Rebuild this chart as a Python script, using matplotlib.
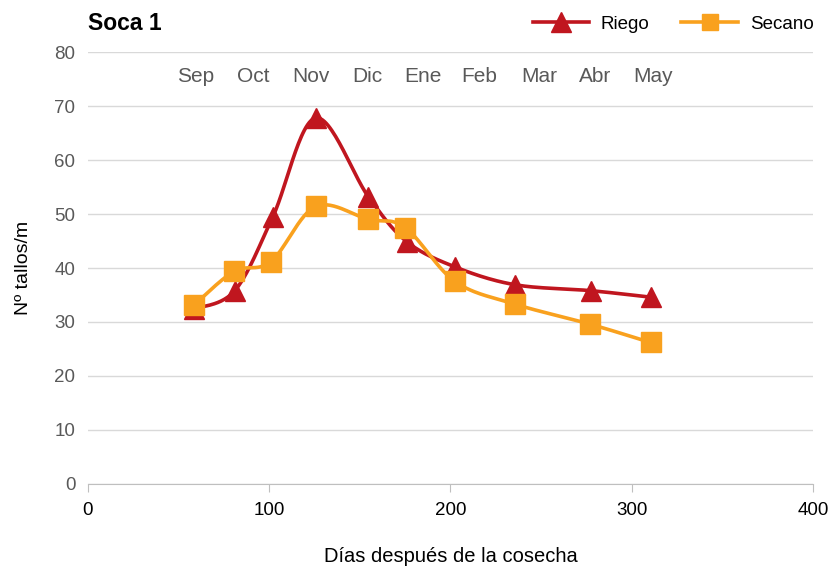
import numpy as np
import matplotlib
matplotlib.use('Agg')
import matplotlib.pyplot as plt
from matplotlib.lines import Line2D

plt.rcParams['font.family'] = ['Liberation Sans', 'DejaVu Sans']

# days after harvest
dias = [58.5, 81, 102, 125.6, 154.7, 175.8, 202.5, 235.6, 277.4, 310.4]
riego = [32.4, 35.8, 49.5, 67.8, 53.2, 44.9, 40.2, 36.9, 35.8, 34.6]
dias_s = [58.7, 80.7, 101, 125.6, 154.7, 175, 202.5, 235.6, 277, 310.4]
secano = [33.2, 39.4, 41.2, 51.4, 49.0, 47.5, 37.5, 33.3, 29.6, 26.2]

meses = ['Sep', 'Oct', 'Nov', 'Dic', 'Ene', 'Feb', 'Mar', 'Abr', 'May']
meses_x = [59.6, 91, 123, 154, 184.8, 216, 248.8, 280, 312]


def smooth(x, y, n=30):
    # excel-like smoothed line (bezier, tension 1/6)
    x = np.asarray(x, float); y = np.asarray(y, float)
    P = np.column_stack([x, y])
    out = []
    for i in range(len(P) - 1):
        p0 = P[max(i - 1, 0)]; p1 = P[i]; p2 = P[i + 1]; p3 = P[min(i + 2, len(P) - 1)]
        c1 = p1 + (p2 - p0) / 6
        c2 = p2 - (p3 - p1) / 6
        t = np.linspace(0, 1, n)[:, None]
        seg = ((1 - t) ** 3) * p1 + 3 * ((1 - t) ** 2) * t * c1 + 3 * (1 - t) * t ** 2 * c2 + t ** 3 * p2
        out.append(seg if i == 0 else seg[1:])
    out = np.vstack(out)
    return out[:, 0], out[:, 1]


red = '#C0161F'
orange = '#F9A11E'

fig = plt.figure(figsize=(8.3, 5.66), dpi=100)
ax = fig.add_axes([0.106, 0.145, 0.8735, 0.763])

sx, sy = smooth(dias, riego)
ax.plot(sx, sy, color=red, lw=2.6, zorder=3)
ax.plot(dias, riego, ls='none', marker='^', ms=14, color=red, zorder=4)
sx, sy = smooth(dias_s, secano)
ax.plot(sx, sy, color=orange, lw=2.6, zorder=3)
ax.plot(dias_s, secano, ls='none', marker='s', ms=14, color=orange, zorder=5)

for m, xm in zip(meses, meses_x):
    ax.text(xm, 75.4, m, ha='center', va='center', fontsize=15, color='#595959')

ax.set_xlim(0, 400)
ax.set_ylim(0, 80)
ax.set_xticks([0, 100, 200, 300, 400])
ax.set_yticks(range(0, 81, 10))
ax.yaxis.grid(True, color='#d9d9d9', lw=1)
ax.set_axisbelow(True)
for s in ['top', 'right', 'left']:
    ax.spines[s].set_visible(False)
ax.spines['bottom'].set_color('#bfbfbf')
ax.tick_params(axis='y', length=0, labelsize=13.5, labelcolor='#595959', pad=9)
ax.tick_params(axis='x', direction='out', length=6, color='#bfbfbf', labelsize=13.5, labelcolor='#000000', pad=7)
ax.set_ylabel('Nº tallos/m', fontsize=14, labelpad=16)
ax.set_xlabel('Días después de la cosecha', fontsize=14.5, labelpad=20)

fig.text(0.106, 0.958, 'Soca 1', fontsize=16.5, fontweight='bold', va='center', ha='left')

h = [Line2D([], [], color=red, lw=2.6, marker='^', ms=14),
     Line2D([], [], color=orange, lw=2.6, marker='s', ms=12)]
fig.legend(h, ['Riego', 'Secano'], loc='center right', bbox_to_anchor=(0.98, 0.957), ncol=2,
           frameon=False, fontsize=13.5, handlelength=3.0, columnspacing=1.7, handletextpad=0.64,
           borderaxespad=0, borderpad=0)

fig.savefig('out.png', dpi=100)
